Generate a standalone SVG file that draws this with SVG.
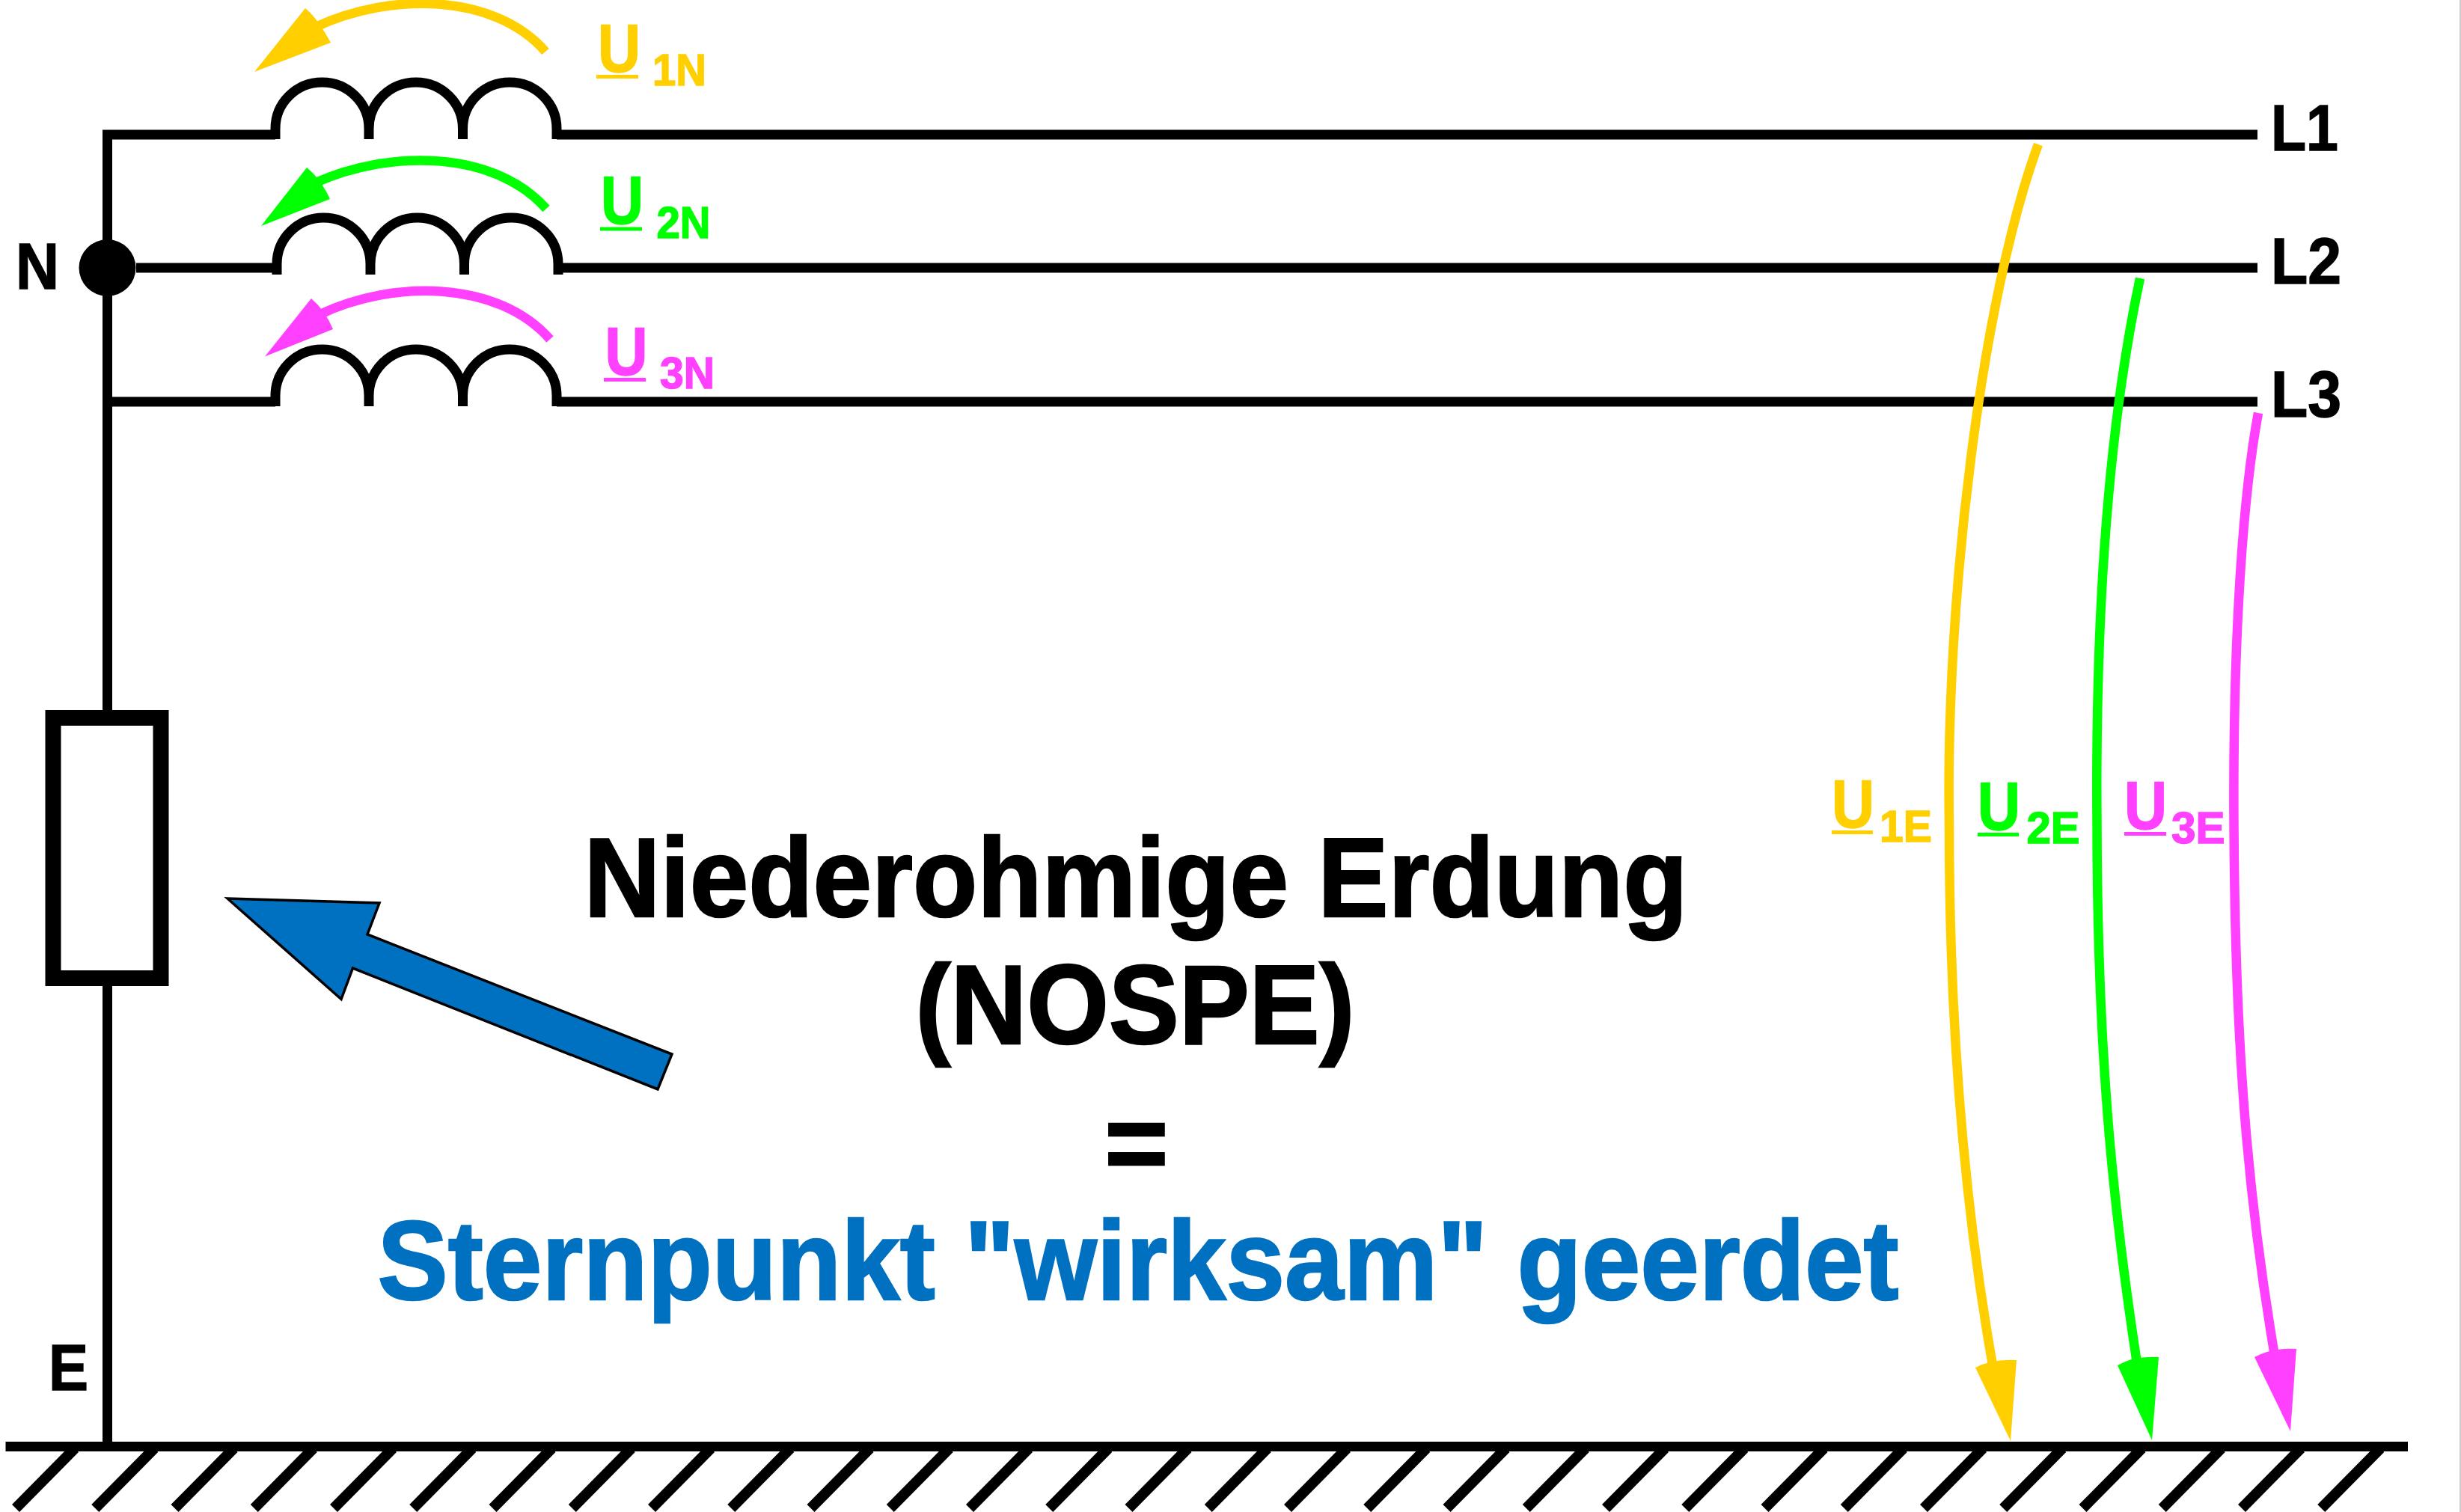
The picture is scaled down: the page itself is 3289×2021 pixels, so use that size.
<svg xmlns="http://www.w3.org/2000/svg" width="3289" height="2021" viewBox="0 0 3289 2021">
<style>
text{font-family:"Liberation Sans",Arial,sans-serif;font-weight:700;stroke-width:1.5;stroke:#000}
.w{fill:none;stroke:#000;stroke-width:13}
.t{fill:none;stroke:#000;stroke-width:14}
.c{fill:none;stroke:#000;stroke-width:13}
.y{fill:#FFCF00}.g{fill:#00FF00}.m{fill:#FF40FF}
text.y{stroke:#FFCF00}text.g{stroke:#00FF00}text.m{stroke:#FF40FF}
.sy{fill:none;stroke:#FFCF00;stroke-width:12.500}.sg{fill:none;stroke:#00FF00;stroke-width:12.500}.sm{fill:none;stroke:#FF40FF;stroke-width:12.500}
.big{font-size:150px;text-anchor:middle;stroke-width:2.500}
.lab{font-size:88px}.u{font-size:90px}.s{font-size:60px}
</style>
<defs>
<path id="coil" d="M368 76V62A62.500 62 0 0 1 493 62V76M493 62A62.750 62 0 0 1 618.500 62V76M618.500 62A62.750 62 0 0 1 744 62V76"/>
<path id="tick" d="M100 1936L21 2016"/>
</defs>
<rect width="3289" height="2021" fill="#fff"/>
<rect x="3287" y="0" width="2" height="2021" fill="#ccc"/>
<g id="connectors">
<path class="w" d="M143.500 1934V180H368M744 180H3017M182 358H370M746 358H3017M143.500 537H368M744 537H3017"/>
<path d="M7.500 1933.500H3218" fill="none" stroke="#000" stroke-width="13"/>
<g id="hatch" class="t">
<use href="#tick"/><use href="#tick" x="106.250"/><use href="#tick" x="212.500"/><use href="#tick" x="318.750"/><use href="#tick" x="425"/><use href="#tick" x="531.250"/><use href="#tick" x="637.500"/><use href="#tick" x="743.750"/><use href="#tick" x="850"/><use href="#tick" x="956.250"/><use href="#tick" x="1062.500"/><use href="#tick" x="1168.750"/><use href="#tick" x="1275"/><use href="#tick" x="1381.250"/><use href="#tick" x="1487.500"/><use href="#tick" x="1593.750"/><use href="#tick" x="1700"/><use href="#tick" x="1806.250"/><use href="#tick" x="1912.500"/><use href="#tick" x="2018.750"/><use href="#tick" x="2125"/><use href="#tick" x="2231.250"/><use href="#tick" x="2337.500"/><use href="#tick" x="2443.750"/><use href="#tick" x="2550"/><use href="#tick" x="2656.250"/><use href="#tick" x="2762.500"/><use href="#tick" x="2868.750"/><use href="#tick" x="2975"/><use href="#tick" x="3081.250"/>
</g>
<g id="voltage-1N"><path class="sy" d="M729 69C660 -10 520 -10 422 36"/><path class="y" d="M340 96L408 11Q424 24 442 57Z"/></g>
<g id="voltage-2N"><path class="sg" d="M730 279C660 200 520 200 422 244"/><path class="g" d="M349 302L410 224Q428 238 441 266Z"/></g>
<g id="voltage-3N"><path class="sm" d="M735 453.500C665 374 525 374 428 420"/><path class="m" d="M354 476.500L416 399Q434 414 445 440Z"/></g>
<g id="voltage-1E"><path class="sy" d="M2724 193C2648 400 2600 800 2605 1100C2605 1400 2630 1640 2664 1830"/><path class="y" d="M2687 1926L2640 1828Q2662 1816 2695 1818Z"/></g>
<g id="voltage-2E"><path class="sg" d="M2860 372C2820 560 2800 800 2802.500 1100C2803 1400 2822 1600 2856 1822"/><path class="g" d="M2876 1925L2830 1825Q2852 1812 2885 1814Z"/></g>
<g id="voltage-3E"><path class="sm" d="M3018 552C2998 660 2984 850 2985.500 1100C2987 1400 3004 1600 3040 1812"/><path class="m" d="M3061 1913L3013 1814Q3036 1801 3069 1803Z"/></g>
</g>
<g id="node-N"><circle cx="143.500" cy="358" r="38"/><text class="lab" x="21" y="386" textLength="58" lengthAdjust="spacingAndGlyphs">N</text></g>
<g id="coil-1"><use href="#coil" y="110" class="c"/></g>
<g id="coil-2"><use href="#coil" x="2" y="291" class="c"/></g>
<g id="coil-3"><use href="#coil" y="467" class="c"/></g>
<g id="resistor"><rect x="71" y="959.500" width="144" height="348" fill="#fff" stroke="#000" stroke-width="21"/></g>
<g id="pointer"><path d="M304 1201L507 1207L491 1249L898 1409L879 1456L471.500 1294L456 1335.500Z" fill="#0070C0" stroke="#000" stroke-width="3.500"/></g>
<g id="label-L1"><text class="lab" x="3035" y="201" textLength="90" lengthAdjust="spacingAndGlyphs">L1</text></g>
<g id="label-L2"><text class="lab" x="3035" y="379" textLength="94" lengthAdjust="spacingAndGlyphs">L2</text></g>
<g id="label-L3"><text class="lab" x="3035" y="557" textLength="94" lengthAdjust="spacingAndGlyphs">L3</text></g>
<g id="label-E"><text class="lab" x="65" y="1858" textLength="53" lengthAdjust="spacingAndGlyphs">E</text></g>
<g id="label-U1N"><text class="u y" x="799" y="96" textLength="57" lengthAdjust="spacingAndGlyphs">U</text><rect class="y" x="797" y="100" width="56" height="5"/><text class="s y" x="872" y="114" textLength="72" lengthAdjust="spacingAndGlyphs">1N</text></g>
<g id="label-U2N"><text class="u g" x="803" y="298.500" textLength="57" lengthAdjust="spacingAndGlyphs">U</text><rect class="g" x="802" y="303.500" width="56" height="5"/><text class="s g" x="877.500" y="317.500" textLength="72" lengthAdjust="spacingAndGlyphs">2N</text></g>
<g id="label-U3N"><text class="u m" x="808.500" y="501" textLength="57" lengthAdjust="spacingAndGlyphs">U</text><rect class="m" x="807" y="505" width="56" height="5"/><text class="s m" x="882" y="518.500" textLength="73" lengthAdjust="spacingAndGlyphs">3N</text></g>
<g id="label-U1E"><text class="u y" x="2448" y="1106" textLength="57" lengthAdjust="spacingAndGlyphs">U</text><rect class="y" x="2448" y="1110" width="55" height="5"/><text class="s y" x="2512" y="1125" textLength="70" lengthAdjust="spacingAndGlyphs">1E</text></g>
<g id="label-U2E"><text class="u g" x="2643" y="1109" textLength="57" lengthAdjust="spacingAndGlyphs">U</text><rect class="g" x="2643" y="1113" width="55" height="5"/><text class="s g" x="2708.500" y="1127" textLength="71" lengthAdjust="spacingAndGlyphs">2E</text></g>
<g id="label-U3E"><text class="u m" x="2839" y="1108" textLength="57" lengthAdjust="spacingAndGlyphs">U</text><rect class="m" x="2839" y="1112" width="56" height="5"/><text class="s m" x="2902" y="1127" textLength="71.500" lengthAdjust="spacingAndGlyphs">3E</text></g>
<g id="caption">
<text class="big" x="1518" y="1225" textLength="1475" lengthAdjust="spacingAndGlyphs">Niederohmige Erdung</text>
<text class="big" x="1517" y="1395" textLength="587" lengthAdjust="spacingAndGlyphs">(NOSPE)</text>
<text class="big" x="1519" y="1578" style="font-size:146px">=</text>
<text class="big" x="1521" y="1737" fill="#0070C0" style="stroke:#0070C0" textLength="2033" lengthAdjust="spacingAndGlyphs">Sternpunkt "wirksam" geerdet</text>
</g>
</svg>
